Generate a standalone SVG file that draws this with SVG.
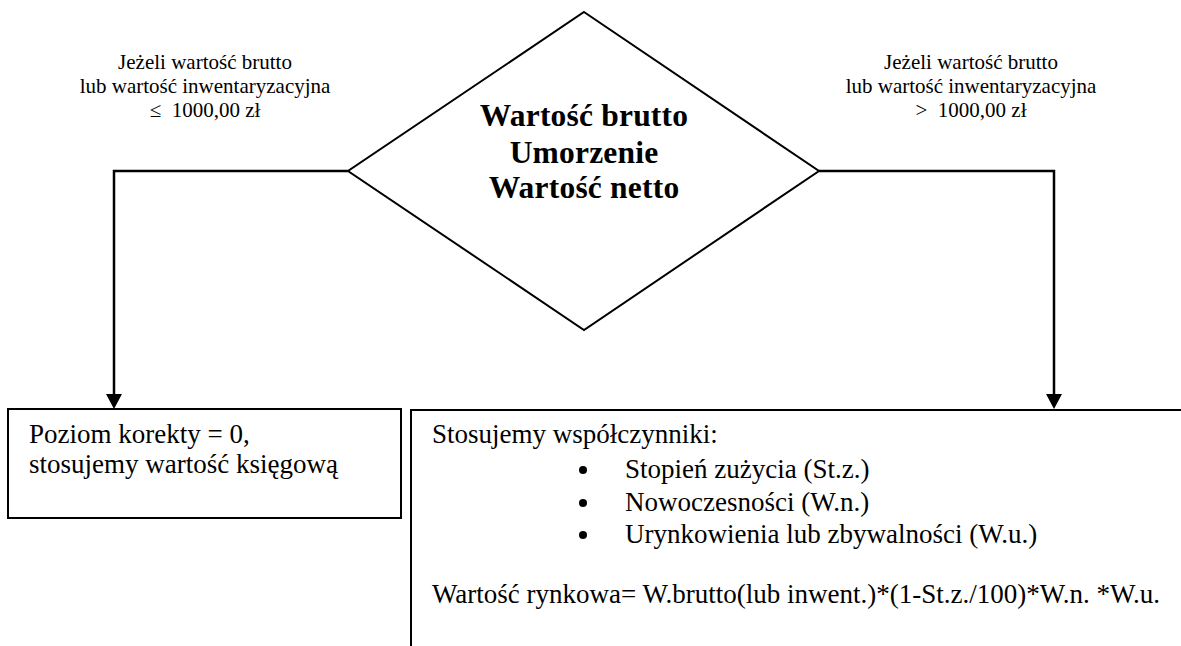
<svg xmlns="http://www.w3.org/2000/svg" width="1181" height="646" viewBox="0 0 1181 646">
<style>
.t{font-family:"Liberation Serif","Times New Roman",serif;fill:#000}
.lbl{font-size:21px;text-anchor:middle}
.body{font-size:27px}
.title{font-size:31.5px;font-weight:bold;text-anchor:middle;letter-spacing:0.2px}
.ln{fill:none;stroke:#000;stroke-width:2}
.cn{fill:none;stroke:#000;stroke-width:2.5}
</style>
<rect width="1181" height="646" fill="#fff"/>
<g id="labels">
<text class="t lbl" x="205" y="69">Jeżeli wartość brutto</text>
<text class="t lbl" x="205" y="93">lub wartość inwentaryzacyjna</text>
<text class="t lbl" x="205" y="117">≤&#160; 1000,00 zł</text>
<text class="t lbl" x="971" y="69">Jeżeli wartość brutto</text>
<text class="t lbl" x="971" y="93">lub wartość inwentaryzacyjna</text>
<text class="t lbl" x="971" y="117">&gt;&#160; 1000,00 zł</text>
</g>
<g id="connectors">
<path class="cn" d="M348,171 H114 V394" />
<polygon points="106,394 122,394 114,409" fill="#000"/>
<path class="cn" d="M819,171 H1054 V394" />
<polygon points="1046,394 1062,394 1054,409" fill="#000"/>
</g>
<g id="decision">
<polygon class="ln" points="584,12 819,171 584,330 348,171"/>
<text class="t title" x="584" y="126">Wartość brutto</text>
<text class="t title" x="584" y="163">Umorzenie</text>
<text class="t title" x="584" y="198">Wartość netto</text>
</g>
<g id="box-left">
<rect class="ln" x="8" y="409" width="393" height="109"/>
<text class="t body" x="29" y="443">Poziom korekty = 0,</text>
<text class="t body" x="29" y="473">stosujemy wartość księgową</text>
</g>
<g id="box-right">
<path class="ln" d="M1182,410 H411 V647"/>
<text class="t body" x="432" y="443">Stosujemy współczynniki:</text>
<circle cx="583" cy="470" r="4"/>
<text class="t body" x="625" y="478">Stopień zużycia (St.z.)</text>
<circle cx="583" cy="503" r="4"/>
<text class="t body" x="625" y="511">Nowoczesności (W.n.)</text>
<circle cx="583" cy="535" r="4"/>
<text class="t body" x="625" y="543">Urynkowienia lub zbywalności (W.u.)</text>
<text class="t body" x="432" y="603">Wartość rynkowa= W.brutto(lub inwent.)*(1-St.z./100)*W.n. *W.u.</text>
</g>
</svg>
